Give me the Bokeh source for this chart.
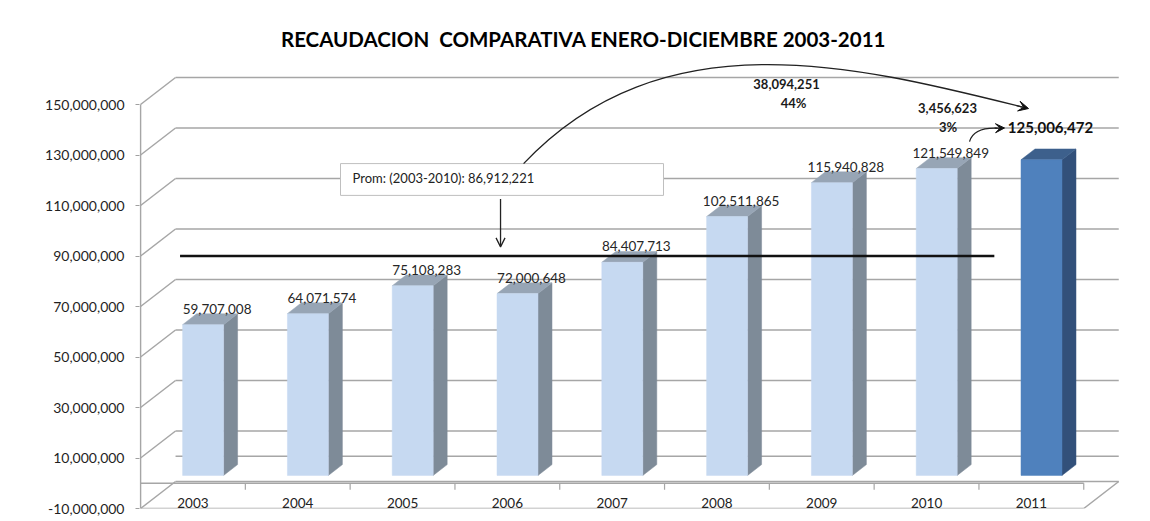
from bokeh.plotting import figure
from bokeh.models import Range1d, FixedTicker, NumeralTickFormatter, Arrow, VeeHead, OpenHead
from bokeh.core.properties import value
from bokeh.embed import file_html
from bokeh.resources import INLINE

# ---------------- data ----------------
years = ["2003", "2004", "2005", "2006", "2007", "2008", "2009", "2010", "2011"]
amounts = [59707008, 64071574, 75108283, 72000648, 84407713,
           102511865, 115940828, 121549849, 125006472]
y_ticks = [-10000000, 10000000, 30000000, 50000000, 70000000,
           90000000, 110000000, 130000000, 150000000]
title_text = "RECAUDACION\u00a0 COMPARATIVA ENERO-DICIEMBRE 2003-2011"
avg_prefix = "Prom: (2003-2010): "

hist = amounts[:-1]
avg = round(sum(hist) / len(hist))
diff_avg = amounts[-1] - avg
pct_avg = diff_avg / avg
diff_prev = amounts[-1] - amounts[-2]
pct_prev = diff_prev / amounts[-2]

# ---------------- geometry (styling) ----------------
PXX = 104.8            # px per category
PXY = 2.525e-6         # px per unit
DX = 35 / PXX          # depth offset (x)
DV = 27 / PXY          # depth offset (y)
F0, F1 = 0.29, 0.69    # bar depth front/back
BW = 0.391             # bar width
N = len(years)

X0 = -0.01
FW, FH = 1001, 500
YMIN = -10000000

p = figure(frame_width=FW, frame_height=FH,
           min_border_left=139, min_border_right=10,
           min_border_top=8, min_border_bottom=10,
           x_range=Range1d(X0, X0 + FW / PXX),
           y_range=Range1d(YMIN, YMIN + FH / PXY),
           output_backend="svg", toolbar_location=None,
           x_axis_location=None)
p.outline_line_color = None
p.xgrid.visible = False
p.ygrid.visible = False
p.background_fill_color = "white"
p.border_fill_color = "white"

ax = p.yaxis[0]
ax.ticker = FixedTicker(ticks=y_ticks)
ax.formatter = NumeralTickFormatter(format="0,0")
ax.axis_line_color = None
ax.major_tick_line_color = "#a0a0a0"
ax.major_tick_out = 4
ax.major_tick_in = 0
ax.minor_tick_line_color = None
ax.major_label_standoff = 11
ax.major_label_text_font = "Lato"
ax.major_label_text_font_size = "14px"
ax.major_label_text_color = "#1f1f1f"

GRID = "#a6a6a6"
top_v = y_ticks[-1]

# back-wall gridlines + side diagonals
gx0, gx1, gy0, gy1 = [], [], [], []
for t in y_ticks:
    gx0 += [0, DX]
    gy0 += [t, t + DV]
    gx1 += [DX, N + DX]
    gy1 += [t + DV, t + DV]
# back wall zero line
gx0.append(DX); gy0.append(DV); gx1.append(N + DX); gy1.append(DV)
p.segment(gx0, gy0, gx1, gy1, line_color=GRID, line_width=1.5)

# floor: front edge, right diagonal, category axis line at 0
p.segment([0, N, 0], [YMIN, YMIN, 0], [N, N + DX, N], [YMIN, YMIN + DV, 0],
          line_color=GRID, line_width=1.5)
# category tick marks
p.segment(list(range(1, N + 1)), [0] * N, list(range(1, N + 1)), [-2.6e6] * N,
          line_color=GRID, line_width=1.2)
# value axis line
p.segment([0], [YMIN], [0], [top_v], line_color=GRID, line_width=1.5)

# ---------------- bars ----------------
front_c = ["#c6d9f1"] * (N - 1) + ["#4f81bd"]
side_c = ["#7e8b98"] * (N - 1) + ["#32507a"]
top_c = ["#97a5b5"] * (N - 1) + ["#3d608c"]

fl, fr, fb, ft = [], [], [], []
sxs, sys_, txs, tys = [], [], [], []
for i, v in enumerate(amounts):
    xl = i + 0.5 - BW / 2
    xr = i + 0.5 + BW / 2
    fl.append(xl + F0 * DX); fr.append(xr + F0 * DX)
    fb.append(F0 * DV); ft.append(v + F0 * DV)
    sxs.append([xr + F0 * DX, xr + F1 * DX, xr + F1 * DX, xr + F0 * DX])
    sys_.append([F0 * DV, F1 * DV, v + F1 * DV, v + F0 * DV])
    txs.append([xl + F0 * DX, xr + F0 * DX, xr + F1 * DX, xl + F1 * DX])
    tys.append([v + F0 * DV, v + F0 * DV, v + F1 * DV, v + F1 * DV])

p.patches(sxs, sys_, fill_color=side_c, line_color=side_c, line_width=0.5)
p.patches(txs, tys, fill_color=top_c, line_color=top_c, line_width=0.5)
p.quad(left=fl, right=fr, bottom=fb, top=ft, fill_color=front_c,
       line_color=front_c, line_width=0.5)

# value labels (2003-2010)
lab_x = [i + 0.5 + F1 * DX for i in range(N - 1)]
lab_y = [v + F1 * DV for v in hist]
p.text(lab_x, lab_y, text=[f"{v:,}" for v in hist], text_align="center",
       text_baseline="bottom", text_font=value("Lato"), text_font_size="13.5px",
       text_color="#262626")
# 2011 label (bold)
p.text([N - 1 + 0.5 + F1 * DX], [amounts[-1] + F1 * DV], text=[f"{amounts[-1]:,}"],
       x_offset=-5, y_offset=-21, text_align="center", text_baseline="middle",
       text_font=value("Lato"), text_font_style="bold", text_font_size="15px",
       text_color="#111111")

# category labels on the floor
p.text([i + 0.5 for i in range(N)], [YMIN + 2.0e6] * N, text=years,
       text_align="center", text_baseline="middle", text_font=value("Lato"),
       text_font_size="13.5px", text_color="#222222")

# ---------------- annotations ----------------
# average line
p.segment([0.28 + F0 * DX], [avg + F0 * DV], [8.05 + F0 * DX], [avg + F0 * DV],
          line_color="#111111", line_width=2.6)

# average box
p.quad(left=[1.908], right=[4.990], bottom=[114.0e6], top=[126.6e6],
       fill_color="white", line_color="#bfbfbf", line_width=1)
p.text([2.023], [120.7e6], text=[f"{avg_prefix}{avg:,}"], text_align="left",
       text_baseline="middle", text_font=value("Lato"), text_font_size="13px",
       text_color="#222222")
p.add_layout(Arrow(end=OpenHead(size=9, line_color="#222222", line_width=1.3),
                   x_start=3.435, y_start=112.6e6, x_end=3.435, y_end=93.6e6,
                   line_color="#222222", line_width=1.3))

# big arc from box to 2011
p.bezier(x0=[3.655], y0=[126.6e6], x1=[8.454], y1=[148.6e6],
         cx0=[4.990], cy0=[185.2e6], cx1=[6.851], cy1=[165.2e6],
         line_color="#222222", line_width=1.3)
p.add_layout(Arrow(end=VeeHead(size=10, fill_color="#111111", line_color="#111111"),
                   x_start=8.359, y_start=149.6e6, x_end=8.473, y_end=148.4e6,
                   line_color="#222222", line_width=1.3))

# small arc from 2010 to 2011
p.quadratic(x0=[7.910], y0=[135.3e6], x1=[8.17], y1=[140.6e6],
            cx=[7.95], cy=[140.9e6], line_color="#222222", line_width=1.3)
p.add_layout(Arrow(end=VeeHead(size=9, fill_color="#111111", line_color="#111111"),
                   x_start=8.15, y_start=140.6e6, x_end=8.244, y_end=140.7e6,
                   line_color="#222222", line_width=1.3))

# difference annotations
p.text([6.164, 6.231, 7.70, 7.705], [158.3e6, 150.4e6, 148.8e6, 140.9e6],
       text=[f"{diff_avg:,}", f"{pct_avg:.0%}", f"{diff_prev:,}", f"{pct_prev:.0%}"],
       text_align="center", text_baseline="middle", text_font=value("Lato"),
       text_font_style="bold", text_font_size="13px", text_color="#1a1a1a")

# title
p.text([4.227], [176.1e6], text=[title_text], text_align="center",
       text_baseline="middle", text_font=value("Lato"), text_font_style="bold",
       text_font_size="20.5px", text_color="#000000")

open("out.html", "w").write(file_html(p, INLINE))
